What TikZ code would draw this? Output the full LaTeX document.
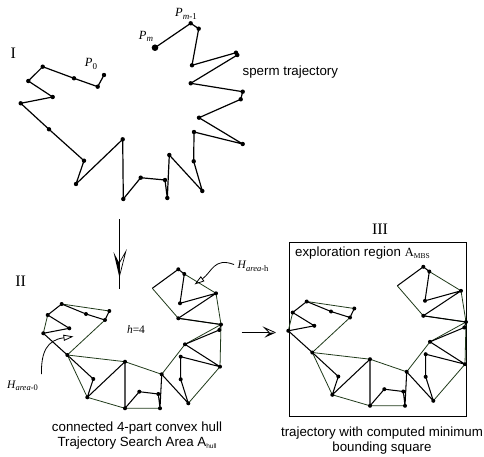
\documentclass[tikz,border=0pt]{standalone}
\usepackage{fontspec}
\setmainfont{Liberation Sans}
\newfontfamily\tms{Liberation Serif}
\usetikzlibrary{arrows.meta}
\definecolor{hullc}{RGB}{32,58,26}
\tikzset{
  traj/.style={line width=1.2pt, black, line join=round},
  trajb/.style={line width=1.05pt, black, line join=round},
  hulledge/.style={line width=0.8pt, hullc, line join=round},
  lbl/.style={inner sep=0pt, font=\fontsize{13.3}{15}\selectfont},
  roman/.style={inner sep=0pt, font=\tms\fontsize{16}{18}\selectfont},
  plbl/.style={inner sep=0pt, font=\tms\fontsize{12.5}{14}\selectfont},
  hlbl/.style={inner sep=0pt, font=\tms\fontsize{11.5}{13}\selectfont},
  annot/.style={line width=0.8pt, -{Triangle[open, length=10pt, width=6pt]}},
}
\newcommand\hullpanel[1]{%
  \foreach \n/\x/\y in {a1/109.3/311,a2/105/320,a3/86/314,a4/61.7/304,a5/47.7/315,a6/69.3/328.3,a7/43.3/333.3,a8/67.3/355,b1/93.3/379,b2/87.3/397.3,b3/125/361.7,b4/125/408.3,b5/139.3/391.7,b6/158.3/394,b7/160/408.3,b8/161.7/374.3,c1/188.3/403.3,c2/180.7/379.3,c3/180.7/356.7,c4/220/366.7,c5/185/344.3,c6/219.3/330,c7/221/324.5,d1/178.3/318.3,d2/216/293.3,d3/180/303.3,d4/184.3/274,d5/178.3/269.3,d6/152.3/288.3}
    \coordinate (#1\n) at (\x,\y);
  \draw[hulledge] (#1a4)--(#1a1) (#1a2)--(#1a8) (#1a7)--(#1a5)
    (#1a8)--(#1b3)--(#1b8) (#1b7)--(#1b4)--(#1b2)--(#1a8)
    (#1b8)--(#1c5)--(#1c7)--(#1c4)--(#1c1)
    (#1d6)--(#1d1)--(#1c7)--(#1d2)--(#1d4);
  \draw[trajb] (#1a1) \foreach \n in {a2,a3,a4,a5,a6,a7,a8,b1,b2,b3,b4,b5,b6,b7,b8,c1,c2,c3,c4,c5,c6,c7,d1,d2,d3,d4,d5,d6}{--(#1\n)};
  \foreach \n in {a1,a2,a3,a4,a5,a6,a7,a8,b1,b2,b3,b4,b5,b6,b7,b8,c1,c2,c3,c4,c5,c6,c7,d1,d2,d3,d4,d5}
    \fill (#1\n) circle (2pt);
}
\begin{document}
\begin{tikzpicture}[x=1pt,y=-1pt]
\useasboundingbox (0,0) rectangle (484,457);
% ---------- Panel I
\foreach \n/\x/\y in {0/104/75,1/97.7/86.7,2/74/78.3,3/42.7/66.7,4/28.3/81,5/52.7/97,6/20.7/103.3,7/49/129.3,8/84/160.7,9/76/184,10/122.7/139.3,11/123.3/199,12/140.7/177.7,13/165/180,14/167.3/198,15/169.3/155,16/202.3/191,17/193.7/161.3,18/194/132,19/242.7/144,20/199/117.7,21/240.7/99.3,22/242.7/91.7,23/190.7/83.3,24/237.3/55,25/236/52.7,26/192/65.3,27/198.7/28.7,28/190.7/23.3,29/155/47.7}
  \coordinate (t\n) at (\x,\y);
\draw[traj] (t0) \foreach \i in {1,...,29}{--(t\i)};
\foreach \i in {0,...,28} \fill (t\i) circle (2.2pt);
\fill (t29) circle (3.3pt);
\node[roman] (rI) at (13.3,53.3) {I};
\node[plbl] (lp0) at (91,64) {\itshape P\raisebox{-2.5pt}{\fontsize{9}{10}\selectfont\upshape 0}};
\node[plbl] (lpm) at (146,36.5) {\itshape P\raisebox{-2.5pt}{\fontsize{9}{10}\selectfont m}};
\node[plbl] (lpm1) at (186,14) {\itshape P\raisebox{-2.5pt}{\fontsize{9}{10}\selectfont m\upshape -1}};
\node[lbl, anchor=base west] (st) at (242.5,75.5) {sperm trajectory};
% ---------- arrow I -> II
\coordinate (dA) at (119.3,219);
\coordinate (dB) at (119.3,277);
\draw[line width=1.4pt] (dA) -- ([yshift=-12pt]dB);
\fill (dB) -- ++(-5.8,-25) -- ++(5.8,11) -- cycle;
\draw[line width=0.7pt, line join=miter] (dB) -- ++(6.5,-25.5) -- ++(-6.5,11.5);
% ---------- Panel II
\node[roman] (rII) at (20.7,281.7) {II};
\hullpanel{p}
\node[hlbl] (h4) at (136,330) {\itshape h\upshape =4};
\node[hlbl, anchor=west] (ha0) at (7,386) {\itshape H\raisebox{-2.5pt}{\fontsize{8.5}{10}\selectfont area\upshape -0}};
\node[hlbl, anchor=west] (hah) at (237.5,266.5) {\itshape H\raisebox{-2.5pt}{\fontsize{8.5}{10}\selectfont area\upshape -h}};
\coordinate (c0s) at (41.5,374);
\coordinate (c0e) at (73.5,336.5);
\draw[annot] (c0s) .. controls (41,352) and (47,340) .. (c0e);
\coordinate (chs) at (234,264.5);
\coordinate (che) at (194.5,284.5);
\draw[annot] (chs) .. controls (214,257) and (212,272) .. (che);
\node[lbl, anchor=base] (capII) at (137,431.5) {connected 4-part convex hull};
\node[lbl, anchor=base] (capII2) at (137,446) {Trajectory Search Area A\raisebox{-2.5pt}{\fontsize{6.5}{7}\selectfont hull}};
% ---------- arrow II -> III
\coordinate (rA) at (241.7,332.7);
\coordinate (rB) at (275.5,332.7);
\draw[line width=1.5pt] (rA) -- ([xshift=-7pt]rB);
\fill (rB) -- ++(-11,5) -- ++(5,-5) -- cycle;
\draw[line width=0.8pt, line join=miter] (rB) -- ++(-11,-5) -- ++(5,5);
% ---------- Panel III
\node[roman] (rIII) at (380,229) {III};
\node[draw, line width=0.9pt, minimum width=176.7pt, minimum height=173.3pt, inner sep=0pt] (mbs) at (377.65,329.35) {};
\begin{scope}[shift={(245,-2.5)}]
\hullpanel{q}
\end{scope}
\node[lbl, anchor=base west] (exr) at (295,256) {exploration region\hspace{4pt}{\tms\fontsize{12.5}{14}\selectfont A\raisebox{-2pt}{\fontsize{7.5}{8}\selectfont MBS}}};
\node[lbl, anchor=base] (capIII) at (382,436.5) {trajectory with computed minimum};
\node[lbl, anchor=base] (capIII2) at (382,451) {bounding square};
\end{tikzpicture}
\end{document}
